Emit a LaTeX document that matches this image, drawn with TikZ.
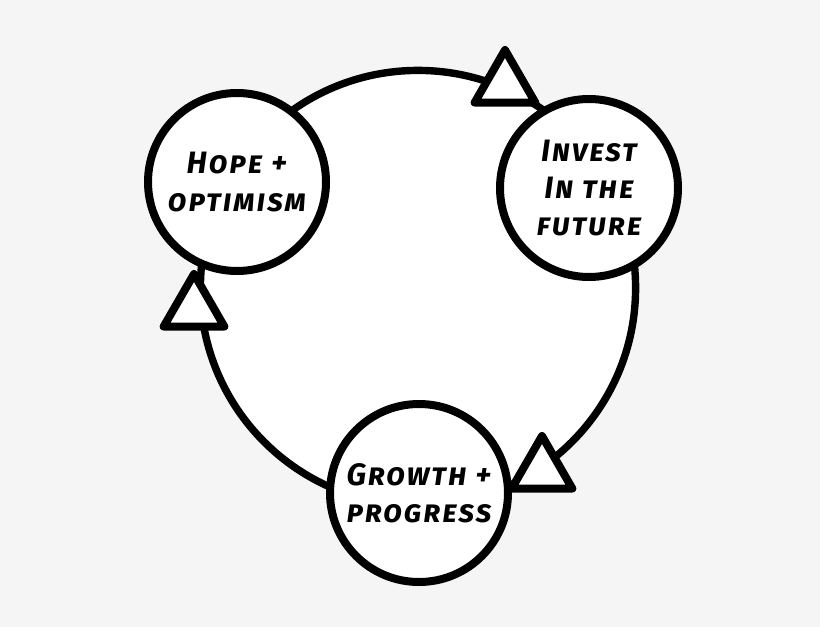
\documentclass[tikz,border=0pt]{standalone}
\usepackage{fontspec}
\setmainfont{Fira Sans}
\usetikzlibrary{shapes.geometric}
\definecolor{bggray}{RGB}{245,245,245}

\begin{document}
\begin{tikzpicture}[x=0.25mm,y=-0.25mm]
  \tikzset{stage circle/.style={draw=black,fill=white,circle,line width=2mm,minimum size=44.5mm,inner sep=0pt,align=center,font=\fontsize{22}{26.5}\selectfont\bfseries\itshape\scshape\addfontfeatures{LetterSpace=6}},
    flow tri/.style={draw=black,fill=white,regular polygon,regular polygon sides=3,line width=2mm,line join=round,minimum size=17.5mm,inner sep=0pt}}

  \fill[bggray] (0,0) rectangle (820,627);
  \draw[line width=1.85mm,fill=white] (418,288) circle (54.4mm); % loop

  \node[flow tri] (triTop) at (505,85) {};
  \node[flow tri] (triLeft) at (194,309) {};
  \node[flow tri] (triRight) at (542,471) {};

  \node[stage circle] (hope) at (237,182) {Hope +\\optimism};
  \node[stage circle] (invest) at (589,188) {Invest\\In the\\future};
  \node[stage circle] (growth) at (419,493) {Growth +\\progress};
\end{tikzpicture}
\end{document}
